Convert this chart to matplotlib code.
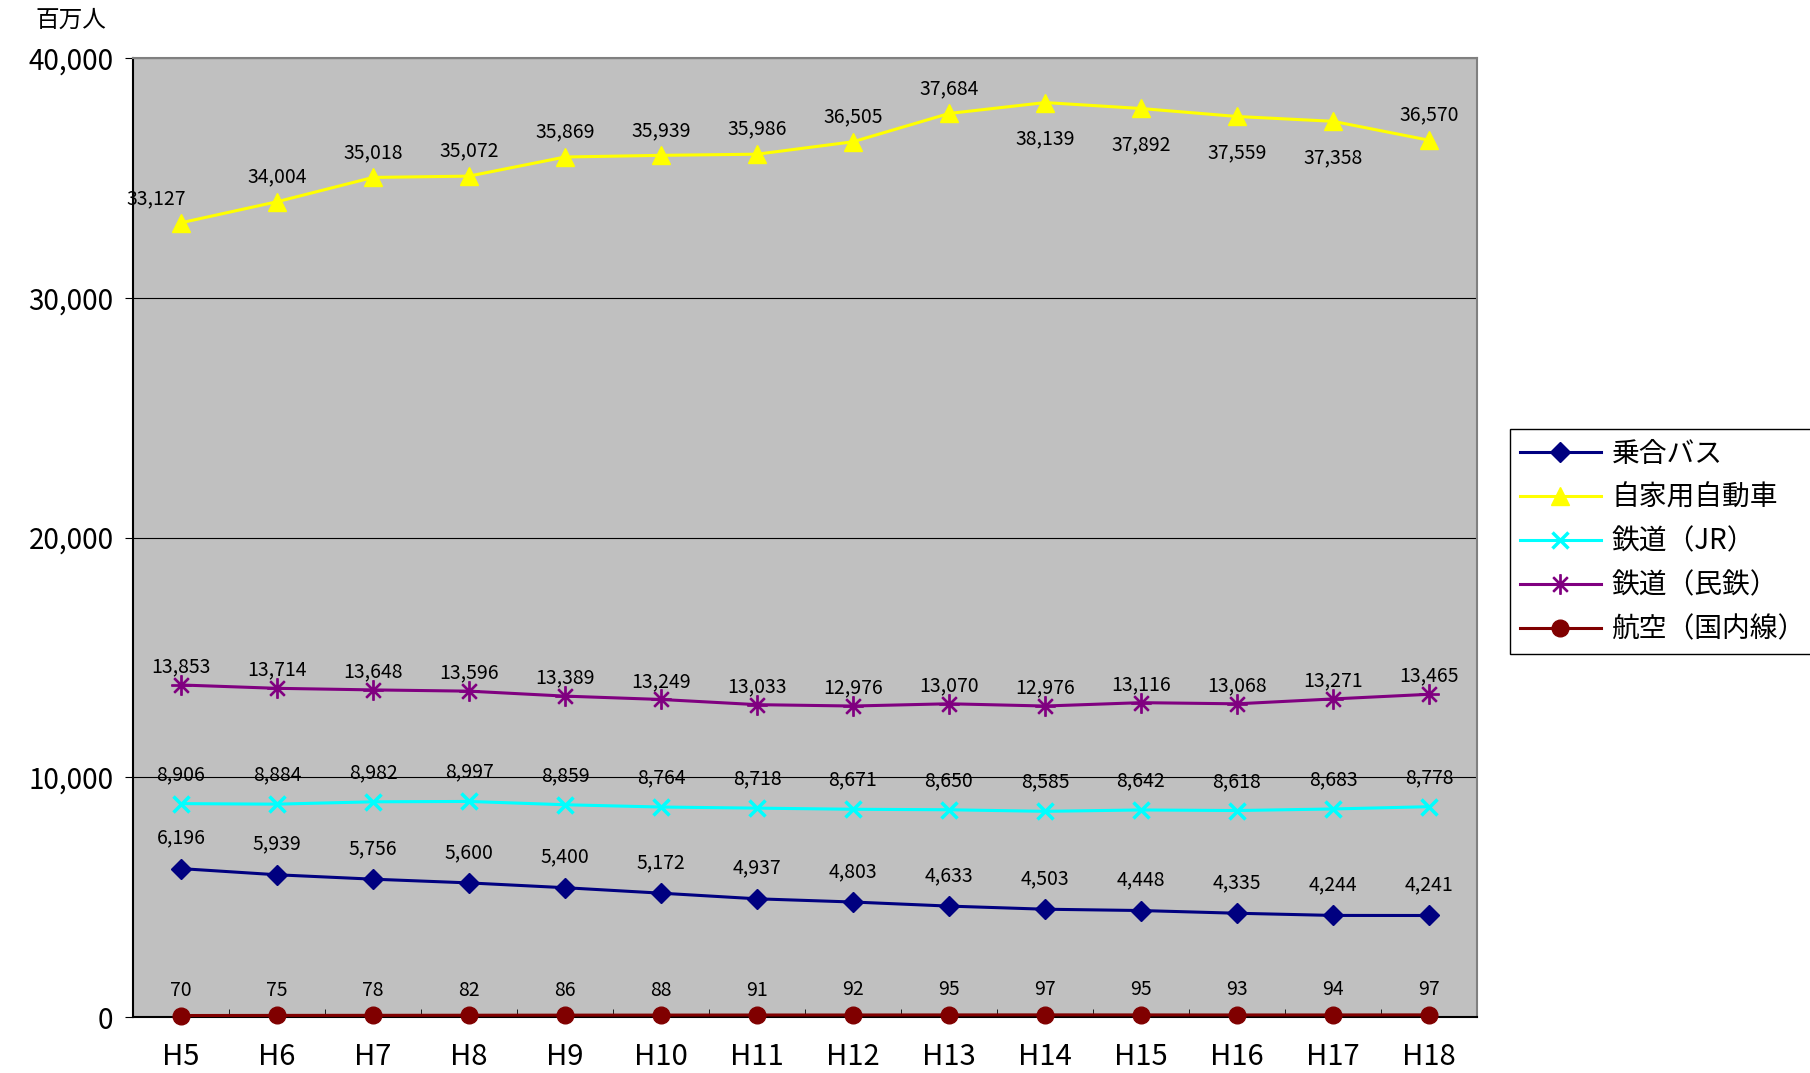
import matplotlib
matplotlib.use('Agg')
import matplotlib.pyplot as plt
from matplotlib.ticker import FuncFormatter, MultipleLocator, FixedLocator

plt.rcParams['font.family'] = ['Noto Sans CJK JP', 'DejaVu Sans']

years = ['H5', 'H6', 'H7', 'H8', 'H9', 'H10', 'H11', 'H12', 'H13', 'H14',
         'H15', 'H16', 'H17', 'H18']

bus = [6196, 5939, 5756, 5600, 5400, 5172, 4937, 4803, 4633, 4503, 4448,
       4335, 4244, 4241]
car = [33127, 34004, 35018, 35072, 35869, 35939, 35986, 36505, 37684, 38139,
       37892, 37559, 37358, 36570]
rail_jr = [8906, 8884, 8982, 8997, 8859, 8764, 8718, 8671, 8650, 8585, 8642,
           8618, 8683, 8778]
rail_private = [13853, 13714, 13648, 13596, 13389, 13249, 13033, 12976, 13070,
                12976, 13116, 13068, 13271, 13465]
air = [70, 75, 78, 82, 86, 88, 91, 92, 95, 97, 95, 93, 94, 97]

series = [
    ('乗合バス', bus, '#000080', 'D', 10, 22),
    ('自家用自動車', car, '#FFFF00', '^', 13, 18),
    ('鉄道（JR）', rail_jr, '#00FFFF', 'x', 12, 21),
    ('鉄道（民鉄）', rail_private, '#800080', '$\u2733$', 14, 13),
    ('航空（国内線）', air, '#800000', 'o', 12, 18),
]

fig = plt.figure(figsize=(18.1, 10.73), dpi=100)
ax = fig.add_axes([0.0735, 0.052, 0.7425, 0.894])
ax.set_facecolor('#C0C0C0')

x = list(range(len(years)))
for name, vals, color, marker, ms, dy in series:
    kw = dict(color=color, lw=2.2, marker=marker, markersize=ms, label=name,
              zorder=3, clip_on=False)
    if marker == 'x':
        kw['markeredgewidth'] = 2.5
    ax.plot(x, vals, **kw)
    for i, v in enumerate(vals):
        off = (0, dy)
        if vals is car:
            if i == 0:
                off = (-18, 17)
            elif 9 <= i <= 12:
                off = (0, -26)
        ax.annotate(f'{v:,}', (i, v), xytext=off, textcoords='offset points',
                    ha='center', va='center', fontsize=14, zorder=4)

ax.set_xlim(-0.5, len(years) - 0.5)
ax.set_ylim(0, 40000)
ax.yaxis.set_major_locator(MultipleLocator(10000))
ax.yaxis.set_major_formatter(FuncFormatter(lambda v, p: f'{int(v):,}'))
ax.grid(axis='y', color='black', lw=0.8, zorder=1)
ax.set_axisbelow(True)

ax.set_xticks(x)
ax.set_xticklabels(years, fontsize=21)
ax.xaxis.set_minor_locator(FixedLocator([i + 0.5 for i in range(len(years) - 1)]))
ax.tick_params(axis='x', which='major', length=0, pad=18)
ax.tick_params(axis='x', which='minor', direction='in', length=6, color='black')
ax.tick_params(axis='y', direction='out', length=6, labelsize=20, pad=8)

for side in ('top', 'right'):
    ax.spines[side].set_color('#808080')
    ax.spines[side].set_linewidth(1.5)
for side in ('left', 'bottom'):
    ax.spines[side].set_color('black')
    ax.spines[side].set_linewidth(1.5)

fig.text(0.039, 0.981, '百万人', fontsize=17, ha='center', va='center')

leg = ax.legend(loc='upper left', bbox_to_anchor=(0.8345, 0.6), bbox_transform=fig.transFigure,
                fontsize=20, frameon=True, fancybox=False, framealpha=1,
                edgecolor='black', borderpad=0.35, labelspacing=0.5,
                handlelength=2.9, handletextpad=0.4, borderaxespad=0)
leg.get_frame().set_linewidth(1)

fig.savefig('out.png', dpi=100)
